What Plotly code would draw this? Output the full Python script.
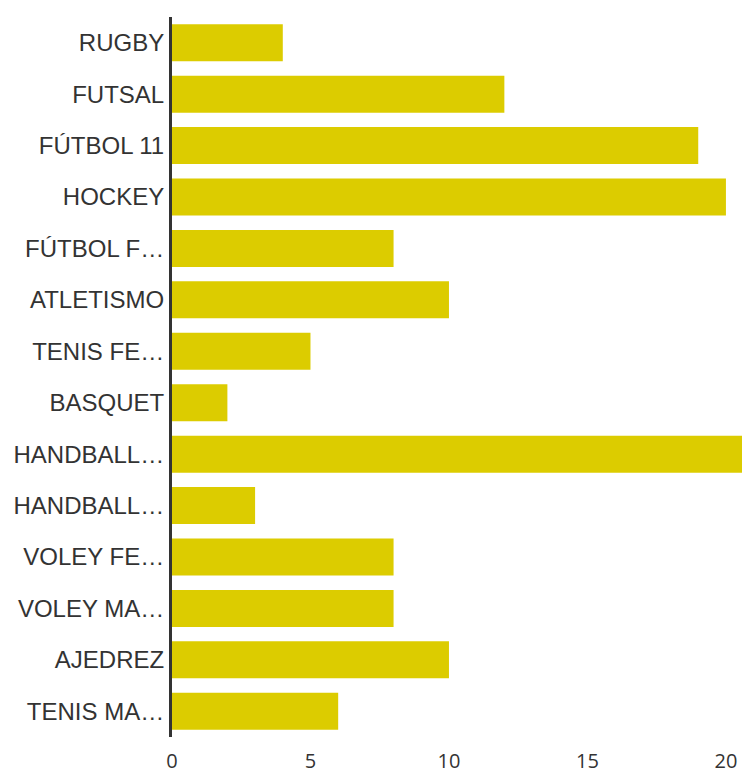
import plotly.graph_objects as go

categories = ["RUGBY", "FUTSAL", "FÚTBOL 11", "HOCKEY", "FÚTBOL F…", "ATLETISMO",
              "TENIS FE…", "BASQUET", "HANDBALL…", "HANDBALL…", "VOLEY FE…",
              "VOLEY MA…", "AJEDREZ", "TENIS MA…"]
values = [4, 12, 19, 20, 8, 10, 5, 2, 21, 3, 8, 8, 10, 6]
ticks = [0, 5, 10, 15, 20]

# unique y keys so duplicate labels get separate rows
ykeys = list(range(len(categories)))

fig = go.Figure(go.Bar(
    x=values, y=ykeys, orientation="h",
    marker=dict(color="#DCCC00", line=dict(width=0)),
    hoverinfo="x",
))

fig.update_layout(
    width=742, height=775,
    margin=dict(l=172, r=0, t=17, b=38, autoexpand=False),
    paper_bgcolor="white", plot_bgcolor="white",
    bargap=0.28,
    showlegend=False,
    xaxis=dict(range=[0, 20.58], tickvals=ticks, showgrid=False, zeroline=False,
               showline=False, ticks="", automargin=False, ticklabelstandoff=10,
               tickfont=dict(family="Open Sans", size=20, color="#333333")),
    yaxis=dict(tickvals=ykeys, ticktext=categories,
               range=[len(categories) - 0.5, -0.5], autorange=False, automargin=False,
               showgrid=False, zeroline=False, showline=True, linecolor="#333333",
               linewidth=3, ticks="", ticklabelstandoff=0,
               tickfont=dict(family="Liberation Sans", size=24, color="#333333")),
)

fig.write_html("out.html", config={"displayModeBar": False},
               post_script="document.body.style.margin='0';document.body.style.overflow='hidden';")
